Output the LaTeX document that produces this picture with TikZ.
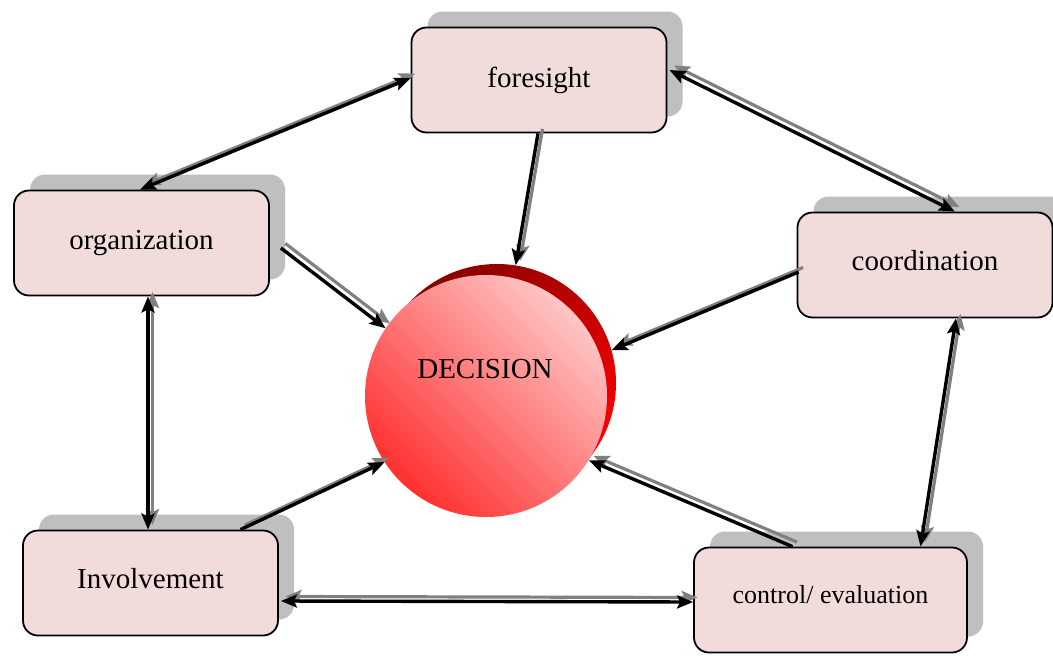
\documentclass[tikz,border=0pt]{standalone}
\usepackage{fontspec}
\setmainfont{Liberation Serif}
\usetikzlibrary{arrows.meta,shadows}

\definecolor{boxfill}{HTML}{F2DCDB}
\definecolor{boxshade}{HTML}{BFBFBF}
\definecolor{linkgray}{HTML}{808080}
\definecolor{discdark}{HTML}{880000}
\definecolor{discred}{HTML}{FF0000}
\definecolor{disclight}{HTML}{FFC6C6}
\definecolor{discdeep}{HTML}{FF3030}

\tikzset{
  stagebox/.style={draw=black, line width=1.8pt, fill=boxfill, rounded corners=15pt,
    minimum width=255pt, minimum height=105pt, inner sep=0pt,
    font=\fontsize{29}{34}\selectfont,
    drop shadow={shadow xshift=16pt, shadow yshift=16pt, fill=boxshade, opacity=1}},
  mainlink/.style={line width=3.4pt, draw=black},
  shadelink/.style={line width=3.2pt, draw=linkgray, transform canvas={shift={(4.5pt,4.5pt)}}},
  >={Stealth[length=16pt,width=13pt,inset=3pt]},
}
% a connector drawn twice: a grey copy offset up-right, then the black line on top
\newcommand\duallink[3]{%
  \draw[shadelink,#1] (#2) -- (#3);
  \draw[mainlink,#1] (#2) -- (#3);}

\begin{document}
\begin{tikzpicture}[x=1pt,y=-1pt]
\useasboundingbox (0,0) rectangle (1053,656);

% stages around the decision
\node[stagebox] (fore)  at (539,80)    {foresight};
\node[stagebox] (org)   at (141.5,243) {organization};
\node[stagebox, text height=20pt, text depth=8.5pt] (coord) at (925,265) {coordination};
\node[stagebox, text height=20pt, text depth=8.5pt] (inv)   at (150.5,583) {Involvement};
\node[stagebox, minimum width=273pt, font=\fontsize{26}{31}\selectfont,
      text height=17pt, text depth=11pt] (ctrl) at (830.5,600) {control/ evaluation};

% the decision disc with its dark rim behind
\node[circle, inner sep=0pt, minimum size=238pt, top color=discdark, bottom color=discred,
      shading angle=40] (decb) at (497,383) {};
\node[circle, inner sep=0pt, minimum size=242pt, top color=disclight, bottom color=discdeep,
      shading angle=-45] (dec) at (486,396) {};
\node[font=\fontsize{29}{34}\selectfont] (dectext) at (485,369) {DECISION};

% connectors
\duallink{<->}{[xshift=-1.5pt]org.north}{[yshift=2pt]fore.west}
\duallink{<->}{[yshift=10pt,xshift=2pt]fore.east}{[xshift=30pt]coord.north}
\duallink{->}{[xshift=-1pt]fore.south}{decb.81}
\duallink{->}{[xshift=11pt,yshift=-5pt]org.east}{dec.146}
\duallink{->}{[yshift=-7pt,xshift=2pt]coord.west}{decb.16}
\duallink{<->}{[xshift=6.5pt]org.south}{[xshift=-2.5pt]inv.north}
\duallink{->}{[xshift=90pt]inv.north}{dec.213}
\duallink{<->}{[yshift=-18pt,xshift=2pt]inv.east}{[yshift=-2pt]ctrl.west}
\duallink{<->}{[xshift=31pt]coord.south}{[xshift=90pt]ctrl.north}
\duallink{->}{[xshift=-38pt]ctrl.north}{dec.328}
\end{tikzpicture}
\end{document}
